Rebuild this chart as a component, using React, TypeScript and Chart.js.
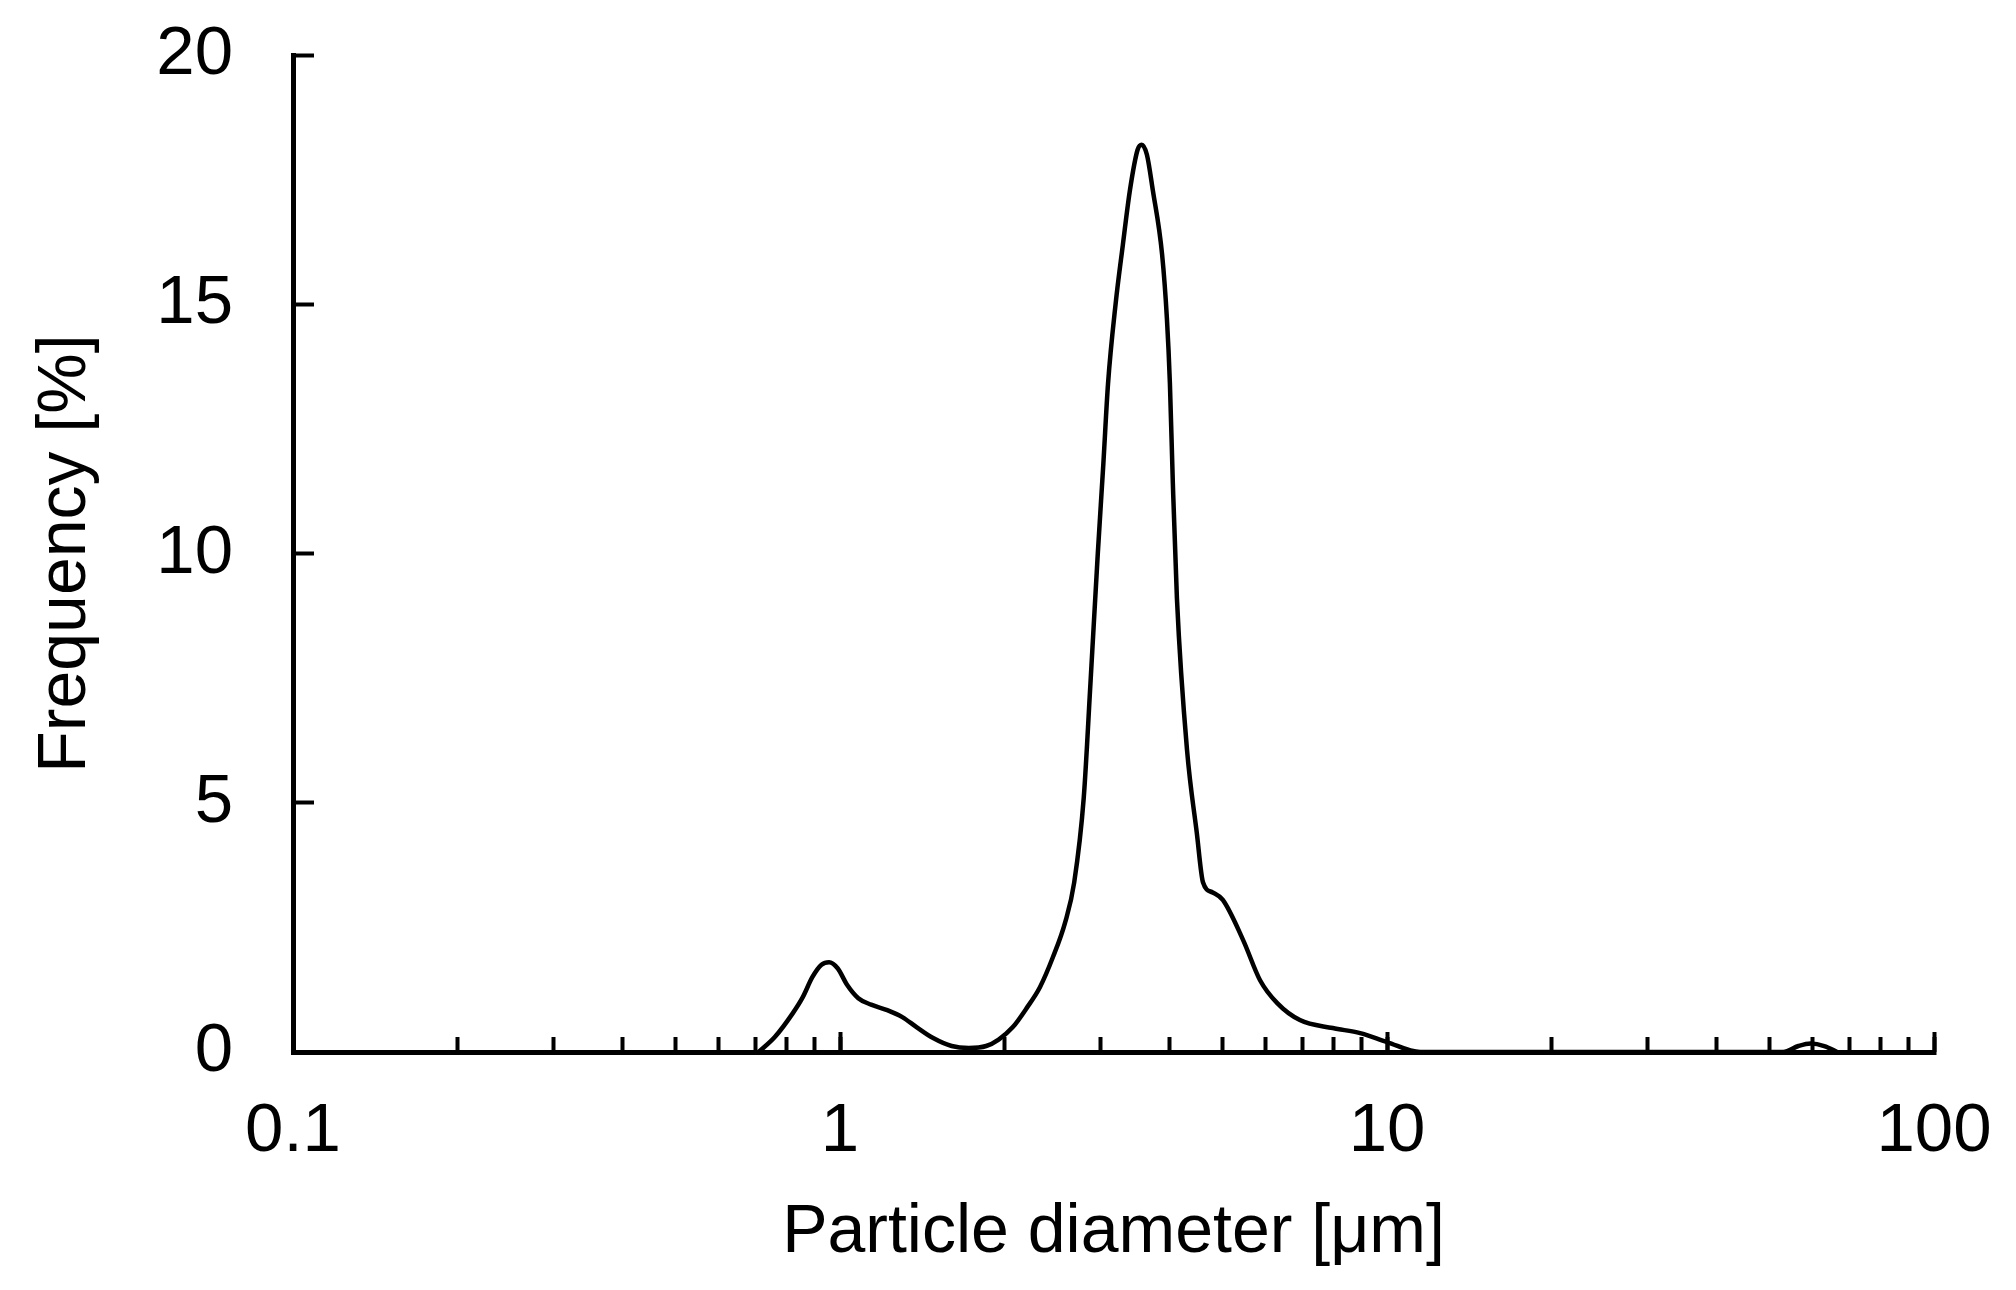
import React, { useEffect, useRef } from "react";
import { Chart, registerables } from "chart.js";

Chart.register(...registerables);

// Particle diameter [µm]
const DIAMETERS = [
  0.71, 0.76, 0.82, 0.855, 0.89, 0.925, 0.955, 0.99, 1.03, 1.08,
  1.14, 1.22, 1.3, 1.38, 1.48, 1.6, 1.72, 1.85, 1.95, 2.07,
  2.2, 2.32, 2.45, 2.58, 2.68, 2.79, 2.87, 2.96, 3.03, 3.09,
  3.19, 3.29, 3.39, 3.5, 3.56, 3.64, 3.73, 3.88, 3.96, 4.01,
  4.06, 4.13, 4.31, 4.49, 4.61, 4.8, 5.01, 5.46, 5.86, 6.3,
  6.93, 7.96, 8.93, 10.0, 11.5, 53, 56.5, 59.5, 63, 66.5,
];
// Frequency [%]
const FREQUENCY = [
  0, 0.3, 0.78, 1.1, 1.5, 1.75, 1.8, 1.68, 1.35, 1.08,
  0.95, 0.84, 0.7, 0.5, 0.28, 0.12, 0.08, 0.12, 0.25, 0.5,
  0.9, 1.3, 1.9, 2.6, 3.4, 5.1, 7.4, 10.0, 11.8, 13.4,
  15.0, 16.2, 17.3, 18.1, 18.2, 18.0, 17.3, 16.0, 14.7, 13.4,
  11.4, 9.1, 6.05, 4.4, 3.4, 3.2, 3.05, 2.24, 1.44, 0.98,
  0.64, 0.48, 0.38, 0.2, 0, 0, 0.12, 0.17, 0.12, 0,
];

const MAJOR_TICKS = [0.1, 1, 10, 100];
const MAJOR_LABELS = ["0.1", "1", "10", "100"];
const MINOR_MULTIPLIERS = [2, 3, 4, 5, 6, 7, 8, 9];
const Y_TICKS = [0, 5, 10, 15, 20];

const X_TITLE = "Particle diameter [\u03bcm]";
const Y_TITLE = "Frequency [%]";

const FONT = "'Liberation Sans', Arial, sans-serif";

function allXTicks(): number[] {
  const out: number[] = [];
  for (let d = 0; d < MAJOR_TICKS.length; d++) {
    out.push(MAJOR_TICKS[d]);
    if (d < MAJOR_TICKS.length - 1) {
      for (const m of MINOR_MULTIPLIERS) {
        out.push(Number((MAJOR_TICKS[d] * m).toPrecision(6)));
      }
    }
  }
  return out;
}

function majorLabel(v: number): string {
  for (let i = 0; i < MAJOR_TICKS.length; i++) {
    if (Math.abs(v - MAJOR_TICKS[i]) < MAJOR_TICKS[i] * 1e-6) return MAJOR_LABELS[i];
  }
  return "";
}

function zeroPadding(scale: any) {
  scale.paddingTop = 0;
  scale.paddingBottom = 0;
  scale.paddingLeft = 0;
  scale.paddingRight = 0;
}

export default function App() {
  const ref = useRef<HTMLCanvasElement | null>(null);

  useEffect(() => {
    const canvas = ref.current;
    if (!canvas) return;
    const chart = new Chart(canvas, {
      type: "line",
      data: {
        datasets: [
          {
            data: DIAMETERS.map((x, i) => ({ x, y: FREQUENCY[i] })),
            borderColor: "#000",
            borderWidth: 4.5,
            pointRadius: 0,
            fill: false,
            cubicInterpolationMode: "monotone",
            xAxisID: "x",
            yAxisID: "y",
          },
        ],
      },
      options: {
        animation: false,
        responsive: false,
        devicePixelRatio: 1,
        layout: { padding: { top: 55, right: 82, bottom: 0, left: 0 } },
        plugins: { legend: { display: false }, tooltip: { enabled: false } },
        scales: {
          xMajor: {
            type: "logarithmic",
            position: "bottom",
            weight: 0,
            min: 0.1,
            max: 100,
            afterBuildTicks: (scale: any) => {
              scale.ticks = MAJOR_TICKS.map((v) => ({ value: v }));
            },
            afterFit: (scale: any) => {
              scale.height = 0;
              zeroPadding(scale);
            },
            ticks: { display: false },
            border: { display: false },
            grid: {
              drawOnChartArea: false,
              drawTicks: true,
              tickLength: -20,
              tickWidth: 4,
              tickColor: "#000",
              color: "#000",
            },
          },
          x: {
            type: "logarithmic",
            position: "bottom",
            weight: 1,
            min: 0.1,
            max: 100,
            afterBuildTicks: (scale: any) => {
              scale.ticks = allXTicks().map((v) => ({ value: v }));
            },
            afterFit: (scale: any) => {
              scale.height = 238;
              zeroPadding(scale);
            },
            ticks: {
              autoSkip: false,
              maxRotation: 0,
              minRotation: 0,
              padding: 54,
              color: "#000",
              font: { family: FONT, size: 69 },
              callback: (value: any) => majorLabel(Number(value)),
            },
            border: { display: true, color: "#000", width: 5 },
            grid: {
              drawOnChartArea: false,
              drawTicks: true,
              tickLength: -15,
              tickWidth: 4,
              tickColor: "#000",
              color: "#000",
            },
            title: {
              display: true,
              text: X_TITLE,
              color: "#000",
              font: { family: FONT, size: 68 },
              padding: { top: 0, bottom: 16 },
            },
          },
          y: {
            type: "linear",
            position: "left",
            min: 0,
            max: 20,
            afterBuildTicks: (scale: any) => {
              scale.ticks = Y_TICKS.map((v) => ({ value: v }));
            },
            afterFit: (scale: any) => {
              scale.width = 293;
              zeroPadding(scale);
            },
            ticks: {
              padding: 81,
              color: "#000",
              font: { family: FONT, size: 69 },
              callback: (value: any) => String(value),
            },
            border: { display: true, color: "#000", width: 5 },
            grid: {
              drawOnChartArea: false,
              drawTicks: true,
              tickLength: -21,
              tickWidth: 4,
              tickColor: "#000",
              color: "#000",
            },
            title: {
              display: true,
              text: Y_TITLE,
              color: "#000",
              font: { family: FONT, size: 68 },
              padding: { top: 25, bottom: 0 },
            },
          },
        },
      } as any,
    });
    return () => chart.destroy();
  }, []);

  return (
    <div
      style={{
        position: "absolute",
        left: 0,
        top: 0,
        width: 2016,
        height: 1290,
        background: "#fff",
      }}
    >
      <canvas ref={ref} width={2016} height={1290} style={{ display: "block", width: 2016, height: 1290 }} />
    </div>
  );
}
